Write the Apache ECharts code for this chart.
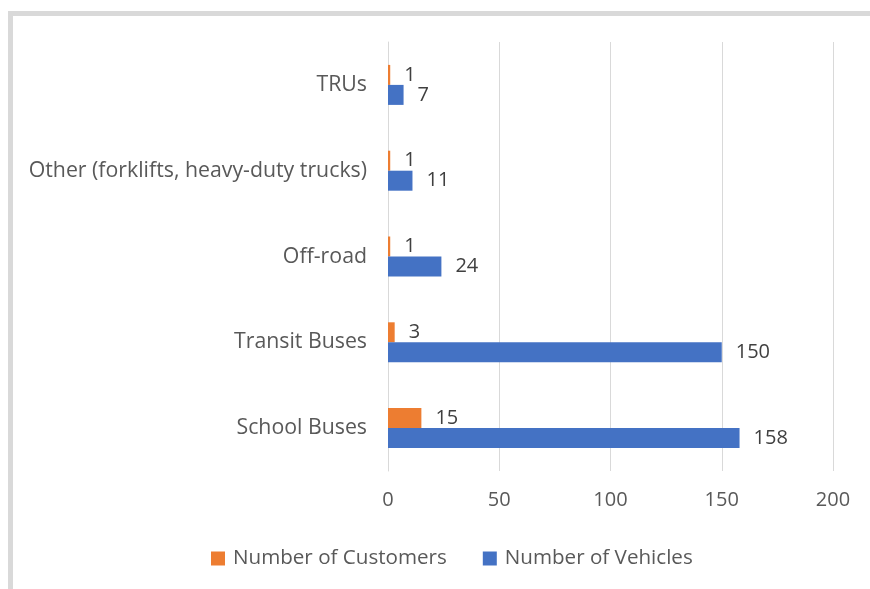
<!DOCTYPE html>
<html>
<head>
<meta charset="utf-8">
<script src="https://cdn.jsdelivr.net/npm/echarts@6/dist/echarts.min.js"></script>
<style>
html,body{margin:0;padding:0;background:#fff;}
#frame{position:absolute;left:8px;top:11px;width:900px;height:600px;border-top:5px solid #d9d9d9;border-left:5px solid #d9d9d9;}
#chart{position:absolute;left:0;top:0;width:870px;height:589px;}
</style>
</head>
<body>
<div id="frame"></div>
<div id="chart"></div>
<script>
var categories = ['School Buses', 'Transit Buses', 'Off-road', 'Other (forklifts, heavy-duty trucks)', 'TRUs'];
var customers = [15, 3, 1, 1, 1];
var vehicles = [158, 150, 24, 11, 7];
var seriesNames = ['Number of Customers', 'Number of Vehicles'];
var xTicks = [0, 50, 100, 150, 200];

var FONT = 'Open Sans';
var FS = 20;
var chart = echarts.init(document.getElementById('chart'));
var labelStyle = {show: true, position: 'right', distance: 14, color: '#404040', fontSize: FS, fontFamily: FONT};
chart.setOption({
  animation: false,
  grid: {left: 388, right: 37, top: 42, bottom: 118},
  legend: {
    data: seriesNames,
    top: 543,
    left: 206,
    itemWidth: 14, itemHeight: 14, itemGap: 36,
    icon: 'rect',
    textStyle: {color: '#595959', fontSize: 20.6, fontFamily: FONT, padding: [0, 0, 0, 3]}
  },
  xAxis: {
    type: 'value', min: xTicks[0], max: xTicks[xTicks.length - 1], interval: 50,
    axisLine: {show: false}, axisTick: {show: false},
    splitLine: {lineStyle: {color: '#d9d9d9', width: 1}},
    axisLabel: {color: '#595959', fontSize: FS, fontFamily: FONT, margin: 19}
  },
  yAxis: {
    type: 'category', data: categories,
    axisLine: {show: true, lineStyle: {color: '#d9d9d9'}}, axisTick: {show: false},
    axisLabel: {color: '#595959', fontSize: 21.3, fontFamily: FONT, margin: 21}
  },
  series: [
    {name: seriesNames[0], type: 'bar', data: customers, barWidth: 20, barGap: '0%',
     itemStyle: {color: '#ED7D31'}, label: labelStyle},
    {name: seriesNames[1], type: 'bar', data: vehicles, barWidth: 20, barGap: '0%',
     itemStyle: {color: '#4472C4'}, label: labelStyle}
  ]
});
</script>
</body>
</html>
